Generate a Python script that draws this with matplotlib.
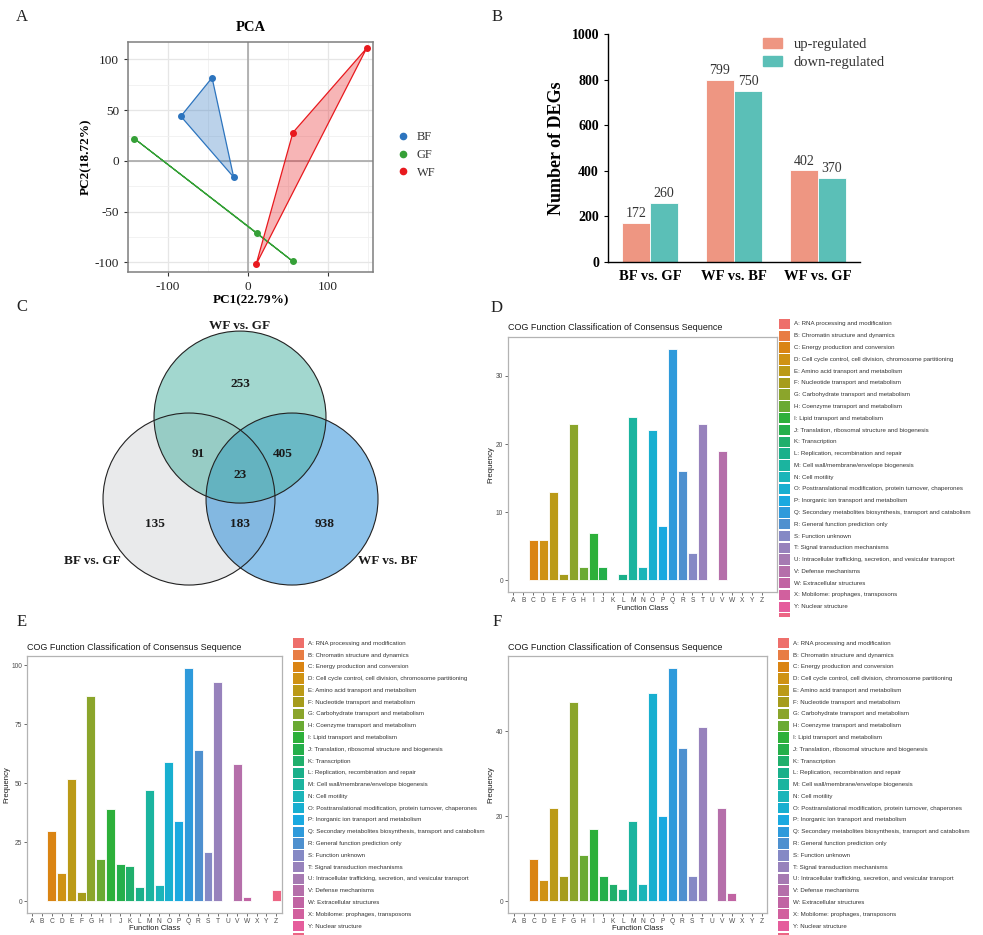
import matplotlib.pyplot as plt
import numpy as np
from matplotlib.patches import Circle, Rectangle, Patch
from matplotlib.lines import Line2D

plt.rcParams['axes.unicode_minus'] = False
SERIF = ['Liberation Serif', 'DejaVu Serif']
SANS = ['Liberation Sans', 'DejaVu Sans']

# ---- data ----
# PCA scores
bf_pc1 = [-45, -84, -18]
bf_pc2 = [82, 44, -16]
gf_pc1 = [-142, 11, 56]
gf_pc2 = [22, -71, -99]
wf_pc1 = [148, 56, 10]
wf_pc2 = [111, 28, -102]

# DEG counts
deg_comparisons = ["BF vs. GF", "WF vs. BF", "WF vs. GF"]
up_regulated = [172, 799, 402]
down_regulated = [260, 750, 370]

# Venn region counts
venn_labels = ["WF vs. GF", "BF vs. GF", "WF vs. BF"]
only_wg, only_bg, only_wb = 253, 135, 938
wg_bg, wg_wb, bg_wb, all_three = 91, 405, 183, 23

# COG
cog_letters = list("ABCDEFGHIJKLMNOPQRSTUVWXYZ")
cog_names = [
    "RNA processing and modification",
    "Chromatin structure and dynamics",
    "Energy production and conversion",
    "Cell cycle control, cell division, chromosome partitioning",
    "Amino acid transport and metabolism",
    "Nucleotide transport and metabolism",
    "Carbohydrate transport and metabolism",
    "Coenzyme transport and metabolism",
    "Lipid transport and metabolism",
    "Translation, ribosomal structure and biogenesis",
    "Transcription",
    "Replication, recombination and repair",
    "Cell wall/membrane/envelope biogenesis",
    "Cell motility",
    "Posttranslational modification, protein turnover, chaperones",
    "Inorganic ion transport and metabolism",
    "Secondary metabolites biosynthesis, transport and catabolism",
    "General function prediction only",
    "Function unknown",
    "Signal transduction mechanisms",
    "Intracellular trafficking, secretion, and vesicular transport",
    "Defense mechanisms",
    "Extracellular structures",
    "Mobilome: prophages, transposons",
    "Nuclear structure",
    "Cytoskeleton",
]
cog_d = [0, 0, 6, 6, 13, 1, 23, 2, 7, 2, 0, 1, 24, 2, 22, 8, 34, 16, 4, 23, 0, 19, 0, 0, 0, 0]
cog_e = [0, 0, 30, 12, 52, 4, 87, 18, 39, 16, 15, 6, 47, 7, 59, 34, 99, 64, 21, 93, 0, 58, 2, 0, 0, 5]
cog_f = [0, 0, 10, 5, 22, 6, 47, 11, 17, 6, 4, 3, 19, 4, 49, 20, 55, 36, 6, 41, 0, 22, 2, 0, 0, 0]

cog_colors = ["#EE6F6B", "#E87D44", "#DA8413", "#CF9213", "#BB9A17", "#A69C1C",
              "#8BA52B", "#6AAA33", "#2DB03A", "#25AF4A", "#20AF6C", "#1AB08A",
              "#1BB49F", "#1BB5B9", "#18AFD0", "#1AA9E0", "#2E9ADB", "#4E90CF",
              "#8589C5", "#9782BC", "#A67AB2", "#B56FAA", "#C164A3", "#D1609E",
              "#E55D9C", "#EC6584"]

W, H = 983, 935
fig = plt.figure(figsize=(W / 100, H / 100), dpi=100)


def px_axes(x0, y0, x1, y1):
    return fig.add_axes([x0 / W, 1 - y1 / H, (x1 - x0) / W, (y1 - y0) / H])


def fx(x):
    return x / W


def fy(y):
    return 1 - y / H


# ---- A: PCA ----
axA = px_axes(128, 42, 373, 272)
pca_cols = {"BF": "#2C74BE", "GF": "#35A037", "WF": "#E8191E"}
for name, xs, ys in [("BF", bf_pc1, bf_pc2), ("GF", gf_pc1, gf_pc2), ("WF", wf_pc1, wf_pc2)]:
    c = pca_cols[name]
    axA.fill(xs, ys, facecolor=c, alpha=0.32, edgecolor="none", zorder=3)
    axA.plot(xs + xs[:1], ys + ys[:1], color=c, lw=0.9, zorder=4)
    axA.scatter(xs, ys, color=c, s=16, zorder=5)
axA.set_xlim(-150, 156)
axA.set_ylim(-109.4, 117.2)
axA.set_xticks([-100, 0, 100])
axA.set_yticks([-100, -50, 0, 50, 100])
axA.set_xticks([-150, -50, 50, 150], minor=True)
axA.set_yticks([-75, -25, 25, 75], minor=True)
axA.grid(which="major", color="#E6E6E6", lw=0.9, zorder=0)
axA.grid(which="minor", color="#F0F0F0", lw=0.6, zorder=0)
axA.axhline(0, color="#A8A8A8", lw=1.2, zorder=1)
axA.axvline(0, color="#A8A8A8", lw=1.2, zorder=1)
axA.tick_params(which="minor", length=0)
axA.tick_params(which="major", length=3, color="#333333", labelsize=9.5, labelcolor="#222222")
for lab in axA.get_xticklabels() + axA.get_yticklabels():
    lab.set_family(SERIF)
for s in axA.spines.values():
    s.set_color("#7F7F7F")
    s.set_linewidth(1.1)
axA.set_axisbelow(True)
axA.set_xlabel("PC1(22.79%)", family=SERIF, fontweight="bold", fontsize=9.5, labelpad=1)
axA.set_ylabel("PC2(18.72%)", family=SERIF, fontweight="bold", fontsize=9.5, labelpad=2)
axA.set_title("PCA", family=SERIF, fontweight="bold", fontsize=10.5, pad=8)
handles = [Line2D([], [], marker="o", ls="none", color=pca_cols[k], markersize=4.5, label=k)
           for k in ["BF", "GF", "WF"]]
fig.legend(handles=handles, loc="center left", bbox_to_anchor=(fx(379), fy(155)), frameon=False,
           prop={"family": SERIF, "size": 9}, handletextpad=0.1, labelspacing=0.45,
           labelcolor="#333333")

# ---- B: DEG bars ----
axB = px_axes(608, 34, 860, 262)
xpos = np.arange(len(deg_comparisons))
bw = 0.333
axB.bar(xpos - bw / 2, up_regulated, bw, color="#EE9682", edgecolor="white", lw=0.6, label="up-regulated")
axB.bar(xpos + bw / 2, down_regulated, bw, color="#5BBFB7", edgecolor="white", lw=0.6, label="down-regulated")
for x, v in zip(xpos - bw / 2, up_regulated):
    axB.text(x, v + 12, str(v), ha="center", va="bottom", family=SERIF, fontsize=10, color="#333333")
for x, v in zip(xpos + bw / 2, down_regulated):
    axB.text(x, v + 12, str(v), ha="center", va="bottom", family=SERIF, fontsize=10, color="#333333")
axB.set_xlim(-0.5, 2.5)
axB.set_ylim(0, 1000)
axB.set_yticks(range(0, 1001, 200))
axB.set_xticks(xpos)
axB.set_xticklabels(deg_comparisons)
axB.spines[["top", "right"]].set_visible(False)
axB.spines["left"].set_linewidth(1.0)
axB.spines["bottom"].set_linewidth(1.0)
axB.tick_params(axis="x", length=0, pad=6)
axB.tick_params(axis="y", length=3)
for lab in axB.get_xticklabels():
    lab.set_family(SERIF); lab.set_fontweight("bold"); lab.set_fontsize(10.5)
for lab in axB.get_yticklabels():
    lab.set_family(SERIF); lab.set_fontweight("bold"); lab.set_fontsize(10)
axB.set_ylabel("Number of DEGs", family=SERIF, fontweight="bold", fontsize=13)
axB.yaxis.set_label_coords(-(608 - 565) / 252, 0.5)
fig.legend(handles=[Patch(color="#EE9682", label="up-regulated"),
                    Patch(color="#5BBFB7", label="down-regulated")],
           loc="upper left", bbox_to_anchor=(fx(750), fy(25)), frameon=False,
           prop={"family": SERIF, "size": 10.5}, handlelength=1.3, handleheight=0.7,
           handletextpad=0.8, labelspacing=0.3, labelcolor="#333333")

# ---- C: Venn ----
axC = px_axes(40, 310, 440, 600)
axC.set_xlim(-2.326, 2.326)
axC.set_ylim(-1.174, 2.198)
axC.axis("off")
centers = {"BF vs. GF": (-0.593, 0.0), "WF vs. BF": (0.605, 0.0), "WF vs. GF": (0.0, 0.953)}
fills = {"BF vs. GF": "#D4D6D9", "WF vs. BF": "#1E88D8", "WF vs. GF": "#47B0A0"}
for name in ["BF vs. GF", "WF vs. BF", "WF vs. GF"]:
    axC.add_patch(Circle(centers[name], 1.0, facecolor=fills[name], alpha=0.5, edgecolor="none"))
for name in ["BF vs. GF", "WF vs. BF", "WF vs. GF"]:
    axC.add_patch(Circle(centers[name], 1.0, facecolor="none", edgecolor="#222222", lw=0.8))
vkw = dict(ha="center", va="center", family=SERIF, fontweight="bold", fontsize=9.5, color="#1a1a1a")
axC.text(0.0, 1.337, str(only_wg), **vkw)
axC.text(-0.488, 0.523, str(wg_bg), **vkw)
axC.text(0.5, 0.523, str(wg_wb), **vkw)
axC.text(0.0, 0.279, str(all_three), **vkw)
axC.text(-0.988, -0.29, str(only_bg), **vkw)
axC.text(0.0, -0.29, str(bg_wb), **vkw)
axC.text(0.988, -0.29, str(only_wb), **vkw)
axC.text(0.0, 2.01, venn_labels[0], **vkw)
axC.text(-1.72, -0.72, venn_labels[1], **vkw)
axC.text(1.72, -0.72, venn_labels[2], **vkw)


# ---- D, E, F: COG ----
def cog_panel(rect, values, xlim, yticks, title_y, ylab_x, xlab_y, leg_x, leg_top, leg_row0, leg_bottom):
    ax = px_axes(*rect)
    xs = np.arange(len(cog_letters))
    ax.bar(xs, values, 0.9, color=cog_colors, edgecolor="white", lw=0.6)
    ymax = max(values)
    ax.set_ylim(-0.05 * ymax, ymax * 1.05)
    ax.set_xlim(*xlim)
    ax.set_xticks(xs)
    ax.set_xticklabels(cog_letters)
    ax.set_yticks(yticks)
    ax.tick_params(length=2, width=0.5, color="#333333", labelsize=4.8, labelcolor="#4D4D4D", pad=1.5)
    for lab in ax.get_xticklabels() + ax.get_yticklabels():
        lab.set_family(SANS)
    for s in ax.spines.values():
        s.set_color("#B3B3B3")
        s.set_linewidth(0.9)
    fig.text(fx(rect[0]), fy(title_y), "COG Function Classification of Consensus Sequence",
             family=SANS, fontsize=6.5, va="center", ha="left", color="#1a1a1a")
    fig.text(fx(ylab_x), fy((rect[1] + rect[3]) / 2), "Frequency", family=SANS, fontsize=5.6,
             rotation=90, va="center", ha="center", color="#1a1a1a")
    fig.text(fx((rect[0] + rect[2]) / 2), fy(xlab_y), "Function Class", family=SANS, fontsize=5.6,
             va="center", ha="center", color="#1a1a1a")
    # legend column (last row cut by the panel edge)
    step = 11.78
    lg = px_axes(leg_x, leg_top, W, leg_bottom)
    lg.set_xlim(0, W - leg_x)
    lg.set_ylim((leg_bottom - leg_row0) / step, (leg_top - leg_row0) / step)
    lg.axis("off")
    for i, (let, nm, col) in enumerate(zip(cog_letters, cog_names, cog_colors)):
        lg.add_patch(Rectangle((0, i - 0.44), 11, 0.88, facecolor=col, edgecolor="none", clip_on=True))
        if i < len(cog_letters) - 1:
            lg.text(15, i, f"{let}: {nm}", family=SANS, fontsize=4.4, va="center", ha="left",
                    color="#333333")
    return ax


cog_panel((508, 337, 777, 592), cog_d, (-0.55, 26.5), [0, 10, 20, 30], 328, 491, 608,
          779, 318, 324, 617)
cog_panel((27, 656, 282, 913), cog_e, (-0.55, 25.6), [0, 25, 50, 75, 100], 647, 7, 928,
          293, 636, 643.3, 935)
cog_panel((508, 656, 767, 913), cog_f, (-0.6, 25.55), [0, 20, 40], 647, 491, 928,
          778, 636, 643.3, 935)

# ---- panel letters ----
for letter, x, y in [("A", 22, 17), ("B", 497, 17), ("C", 22, 307),
                     ("D", 497, 308), ("E", 22, 622), ("F", 497, 622)]:
    fig.text(fx(x), fy(y), letter, family=SERIF, fontsize=12, va="center", ha="center", color="#222222")

fig.savefig("out.png", dpi=100)
